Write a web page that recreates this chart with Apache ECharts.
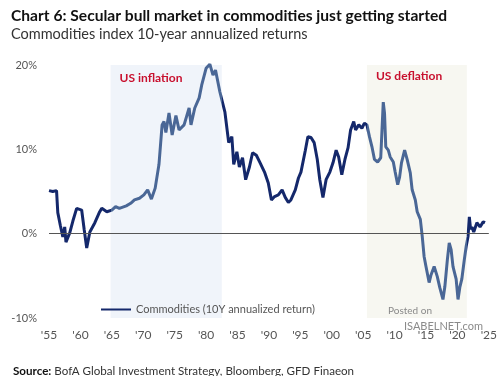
<!DOCTYPE html>
<html>
<head>
<meta charset="utf-8">
<script src="https://cdn.jsdelivr.net/npm/echarts@6/dist/echarts.min.js"></script>
<style>
html, body { margin: 0; padding: 0; background: #fff; }
#chart { width: 500px; height: 376px; }
</style>
</head>
<body>
<div id="chart"></div>
<script>
// commodities index, 10y annualized return (%)
var years = [
    1955.0, 1955.6, 1956.2, 1956.4, 1956.8, 1957.2, 1957.5, 1957.7, 1958.3, 1958.8,
    1959.4, 1960.2, 1960.6, 1961.0, 1961.5, 1962.3, 1963.0, 1963.4, 1964.2, 1965.0,
    1965.6, 1966.2, 1967.3, 1968.0, 1968.6, 1969.4, 1970.1, 1970.7, 1971.3, 1971.9,
    1972.5, 1973.0, 1973.3, 1973.6, 1974.1, 1974.6, 1975.2, 1975.7, 1976.5, 1977.3,
    1977.6, 1978.2, 1978.9, 1979.3, 1980.0, 1980.6, 1981.1, 1981.5, 1982.2, 1983.0,
    1983.6, 1984.1, 1984.4, 1984.9, 1985.3, 1985.8, 1986.3, 1986.9, 1987.4, 1988.0,
    1988.6, 1989.3, 1989.9, 1990.4, 1990.9, 1991.5, 1992.1, 1992.6, 1993.1, 1993.5,
    1994.2, 1994.7, 1995.1, 1995.8, 1996.2, 1996.7, 1997.2, 1997.7, 1998.1, 1998.6,
    1999.1, 1999.7, 2000.2, 2000.7, 2001.1, 2001.6, 2002.1, 2002.6, 2003.0, 2003.5,
    2003.8, 2004.3, 2004.8, 2005.2, 2005.6, 2006.0, 2006.4, 2006.8, 2007.3, 2007.8,
    2008.0, 2008.2, 2008.4, 2008.6, 2009.0, 2009.3, 2009.8, 2010.1, 2010.5, 2010.8,
    2011.1, 2011.6, 2011.9, 2012.0, 2012.5, 2012.8, 2013.3, 2013.6, 2014.1, 2014.4,
    2014.7, 2015.0, 2015.5, 2015.8, 2016.3, 2016.8, 2017.2, 2017.7, 2018.0, 2018.4,
    2018.7, 2019.0, 2019.3, 2019.8, 2020.1, 2020.4, 2020.7, 2021.1, 2021.4, 2021.7,
    2021.9, 2022.1, 2022.3, 2022.6, 2023.1, 2023.6, 2024.1, 2024.4
];
var returns = [
    5.1, 5.0, 5.1, 2.5, 1.0, -0.4, 0.8, -1.0, 0.1, 1.5,
    3.0, 2.8, 0.5, -1.7, 0.2, 1.3, 2.5, 3.0, 2.6, 2.8,
    3.2, 3.0, 3.3, 3.6, 4.0, 4.2, 4.6, 5.2, 4.1, 5.4,
    8.2, 12.9, 13.3, 12.0, 14.3, 11.7, 14.0, 12.3, 12.9, 14.9,
    12.9, 14.9, 16.1, 17.6, 19.6, 20.1, 18.8, 19.4, 16.8, 14.4,
    10.8, 11.5, 8.2, 9.7, 7.9, 9.0, 6.4, 7.9, 9.6, 9.3,
    8.4, 7.3, 6.0, 4.0, 4.4, 4.6, 5.2, 4.3, 3.7, 4.0,
    5.2, 6.6, 7.3, 9.9, 11.5, 11.4, 10.8, 8.8, 6.4, 4.3,
    6.4, 7.3, 8.4, 9.9, 9.1, 7.0, 8.8, 10.2, 12.3, 13.3,
    12.3, 12.9, 12.5, 13.1, 12.9, 11.5, 10.3, 8.8, 8.5, 9.0,
    12.3, 15.6, 14.3, 10.3, 9.9, 9.1, 8.5, 7.3, 5.8, 6.7,
    8.4, 9.9, 9.7, 8.8, 7.2, 5.2, 4.0, 2.6, 1.7, -0.3,
    -2.7, -3.9, -5.8, -4.9, -3.9, -5.1, -6.4, -7.8, -6.3, -3.1,
    -1.1, -1.9, -3.9, -5.4, -7.8, -6.3, -5.4, -3.1, -1.5, -0.3,
    2.0, 0.5, 0.8, 0.2, 1.3, 0.8, 1.4, 1.3
];
var inflation = [1964.8, 1982.5];
var deflation = [2005.6, 2021.5];
var seriesName = 'Commodities (10Y annualized return)';

var points = [];
for (var i = 0; i < years.length; i++) {
    points.push([years[i], returns[i]]);
}

var font = 'Lato';
var navy = '#14286b';
var paleLine = '#4a6796';

var myChart = echarts.init(document.getElementById('chart'));
myChart.setOption({
    backgroundColor: '#fff',
    animation: false,
    textStyle: {fontFamily: font},
    title: [
        {
            text: 'Chart 6: Secular bull market in commodities just getting started',
            left: 6,
            top: 3,
            textStyle: {fontFamily: font, fontSize: 15.6, fontWeight: 'bold', color: '#111'},
            subtext: 'Commodities index 10-year annualized returns',
            subtextStyle: {fontFamily: font, fontSize: 14.5, color: '#333'},
            itemGap: 3
        },
        {
            text: '{b|Source:} BofA Global Investment Strategy, Bloomberg, GFD Finaeon',
            left: 8,
            top: 360,
            textStyle: {
                fontFamily: font, fontSize: 11.6, fontWeight: 'normal', color: '#333',
                rich: {b: {fontFamily: font, fontSize: 11.6, fontWeight: 'bold', color: '#111'}}
            }
        }
    ],
    grid: {left: 49, right: 8, top: 65, bottom: 58},
    legend: {
        left: 96,
        top: 299,
        itemWidth: 30,
        itemHeight: 10,
        icon: 'path://M0,4 L30,4 L30,6 L0,6 Z',
        data: [{name: seriesName, itemStyle: {color: navy}}],
        textStyle: {fontFamily: font, fontSize: 11, color: '#555'}
    },
    visualMap: {
        show: false,
        type: 'piecewise',
        dimension: 0,
        seriesIndex: 0,
        pieces: [
            {lt: inflation[0], color: navy},
            {gte: inflation[0], lte: inflation[1], color: paleLine},
            {gt: inflation[1], lt: deflation[0], color: navy},
            {gte: deflation[0], lte: deflation[1], color: paleLine},
            {gt: deflation[1], color: navy}
        ]
    },
    xAxis: {
        type: 'value',
        min: 1955,
        max: 2025,
        interval: 5,
        axisLine: {show: false},
        axisTick: {show: false},
        splitLine: {show: false},
        axisLabel: {
            margin: 11,
            fontSize: 12,
            color: '#555',
            formatter: function (v) {
                return "'" + String(v).slice(2);
            }
        }
    },
    yAxis: {
        type: 'value',
        min: -10,
        max: 20,
        interval: 10,
        axisLine: {show: false},
        axisTick: {show: false},
        splitLine: {show: false},
        axisLabel: {
            margin: 12,
            fontSize: 11,
            color: '#555',
            formatter: '{value}%'
        }
    },
    graphic: [
        {type: 'text', z: 100, left: 388, top: 306, style: {text: 'Posted on', fill: '#8a8a8a', fontSize: 10, fontFamily: font}},
        {type: 'text', z: 100, left: 404, top: 321, style: {text: 'ISABELNET.com', fill: '#8a8a8a', fontSize: 11, fontFamily: font}}
    ],
    series: [
        {
            name: seriesName,
            type: 'line',
            data: points,
            symbol: 'none',
            clip: false,
            z: 3,
            lineStyle: {width: 3},
            markLine: {
                silent: true,
                symbol: 'none',
                label: {show: false},
                lineStyle: {color: '#555', width: 1.2, type: 'solid'},
                data: [{yAxis: 0}]
            },
            markArea: {
                silent: true,
                data: [
                    [
                        {
                            xAxis: inflation[0], yAxis: 20.8,
                            itemStyle: {color: '#f0f4fa'},
                            label: {
                                show: true, position: 'insideTopLeft', offset: [4, 2],
                                formatter: 'US inflation',
                                color: '#c8102e', fontWeight: 'bold', fontSize: 12, fontFamily: font
                            }
                        },
                        {xAxis: inflation[1], yAxis: -10.5}
                    ],
                    [
                        {
                            xAxis: deflation[0], yAxis: 20.4,
                            itemStyle: {color: '#f7f7f1'},
                            label: {
                                show: true, position: 'insideTopLeft', offset: [4, 0],
                                formatter: 'US deflation',
                                color: '#c8102e', fontWeight: 'bold', fontSize: 12, fontFamily: font
                            }
                        },
                        {xAxis: deflation[1], yAxis: -10.5}
                    ]
                ]
            }
        }
    ]
});
</script>
</body>
</html>
